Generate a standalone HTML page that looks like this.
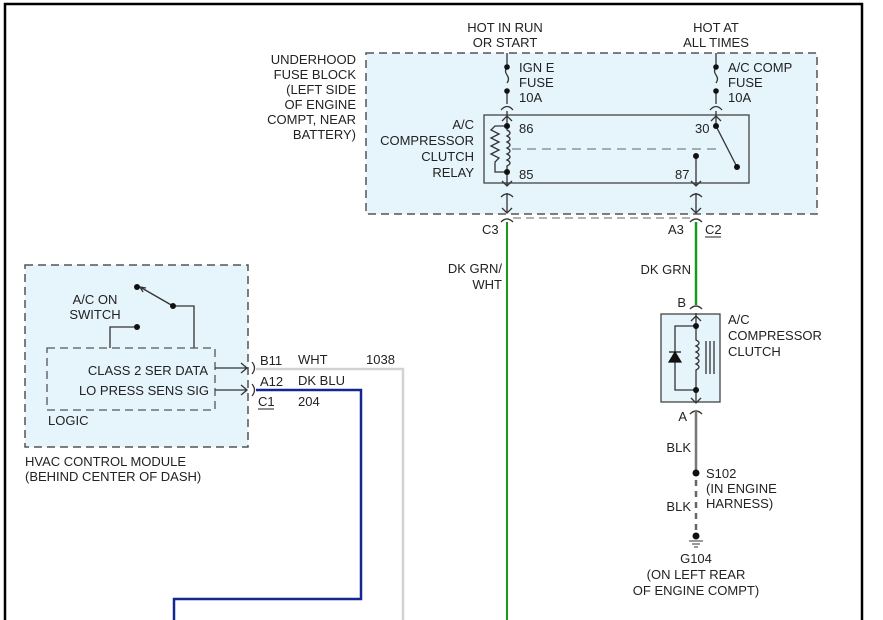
<!DOCTYPE html>
<html><head><meta charset="utf-8"><style>
html,body{margin:0;padding:0;background:#fff;}
svg{display:block;font-family:"Liberation Sans",Arial,sans-serif;font-size:13px;fill:#222;}
</style></head><body>
<svg width="883" height="620" viewBox="0 0 883 620" xmlns="http://www.w3.org/2000/svg">
<path d="M5 620 V4 H862 V620" fill="none" stroke="#000" stroke-width="2.5"/>

<rect x="366" y="53" width="451" height="161" fill="#e6f4fc" stroke="#555" stroke-width="1.5" stroke-dasharray="8,5"/>
<text x="356" y="64" text-anchor="end">UNDERHOOD</text>
<text x="356" y="79" text-anchor="end">FUSE BLOCK</text>
<text x="356" y="94" text-anchor="end">(LEFT SIDE</text>
<text x="356" y="109" text-anchor="end">OF ENGINE</text>
<text x="356" y="124" text-anchor="end">COMPT, NEAR</text>
<text x="356" y="139" text-anchor="end">BATTERY)</text>

<text x="505" y="32" text-anchor="middle">HOT IN RUN</text>
<text x="505" y="47" text-anchor="middle">OR START</text>
<text x="716" y="32" text-anchor="middle">HOT AT</text>
<text x="716" y="47" text-anchor="middle">ALL TIMES</text>

<g stroke="#333" stroke-width="1.3" fill="none">
<path d="M507 53 V67"/>
<path d="M507 67 q-3 4 0 8 q3 4 0 8"/>
<path d="M507 91 V104"/>
<path d="M501 110 q6 -7 12 0"/>
<path d="M716 53 V67"/>
<path d="M716 67 q-3 4 0 8 q3 4 0 8"/>
<path d="M716 91 V104"/>
<path d="M710 110 q6 -7 12 0"/>
</g>
<g fill="#111">
<circle cx="507" cy="67" r="2.8"/><circle cx="507" cy="91" r="2.8"/>
<circle cx="716" cy="67" r="2.8"/><circle cx="716" cy="91" r="2.8"/>
</g>
<text x="519" y="72">IGN E</text><text x="519" y="87">FUSE</text><text x="519" y="102">10A</text>
<text x="728" y="72">A/C COMP</text><text x="728" y="87">FUSE</text><text x="728" y="102">10A</text>

<rect x="484" y="115" width="265" height="68" fill="#e6f4fc" stroke="#444" stroke-width="1.3"/>
<text x="474" y="129" text-anchor="end">A/C</text>
<text x="474" y="145" text-anchor="end">COMPRESSOR</text>
<text x="474" y="161" text-anchor="end">CLUTCH</text>
<text x="474" y="177" text-anchor="end">RELAY</text>
<g stroke="#333" stroke-width="1.3" fill="none">
<path d="M507 111 V126"/><path d="M502 121 L507 116 L512 121"/>
<path d="M507 126 H495 l-4 4 l8 4 l-8 4 l8 4 l-8 4 l8 4 l-8 4 l8 4 l-4 4 V172 H507"/>
<path d="M507 126 V130 q6 3 0 6 q6 3 0 6 q6 3 0 6 q6 3 0 6 q6 3 0 6 q6 3 0 6 V172"/>
<path d="M507 172 V186"/><path d="M502 181 L507 186 L512 181"/>
<path d="M512 149 H720" stroke-dasharray="9,6" stroke="#666" stroke-width="1"/>
<path d="M716 111 V126"/><path d="M711 121 L716 116 L721 121"/>
<path d="M716 126 L737 167"/>
<path d="M696 156 V186"/><path d="M691 181 L696 186 L701 181"/>
<path d="M501 197 q6 -6 12 0"/><path d="M507 193 V213"/><path d="M502 208 L507 213 L512 208"/>
<path d="M690 197 q6 -6 12 0"/><path d="M696 193 V213"/><path d="M691 208 L696 213 L701 208"/>
<path d="M501 222 q6 -6 12 0"/><path d="M690 222 q6 -6 12 0"/>
<path d="M513 218 H690" stroke-dasharray="8,5" stroke="#666" stroke-width="1"/>
</g>
<g fill="#111">
<circle cx="507" cy="126" r="3"/><circle cx="507" cy="172" r="3"/>
<circle cx="716" cy="126" r="3"/><circle cx="737" cy="167" r="3"/>
<circle cx="696" cy="156" r="3"/>
</g>
<text x="519" y="133">86</text><text x="519" y="179">85</text>
<text x="695" y="133">30</text><text x="675" y="179">87</text>
<text x="482" y="234">C3</text>
<text x="668" y="234">A3</text>
<text x="705" y="234">C2</text><path d="M705 237 H721" stroke="#222" stroke-width="1"/>

<path d="M507 222 V620" stroke="#1a9a1a" stroke-width="2"/>
<path d="M696 222 V305" stroke="#1a9a1a" stroke-width="2.5"/>
<text x="502" y="273" text-anchor="end">DK GRN/</text>
<text x="502" y="289" text-anchor="end">WHT</text>
<text x="691" y="274" text-anchor="end">DK GRN</text>

<text x="686" y="307" text-anchor="end">B</text>
<path d="M690 309 q6 -6 12 0" stroke="#333" stroke-width="1.3" fill="none"/>
<rect x="661" y="314" width="59" height="88" fill="#e6f4fc" stroke="#444" stroke-width="1.3"/>
<g stroke="#333" stroke-width="1.3" fill="none">
<path d="M696 313 V326"/><path d="M691 321 L696 316 L701 321"/>
<path d="M696 326 H675 V390 H696"/>
<path d="M696 326 V340 q6 3 0 6 q6 3 0 6 q6 3 0 6 q6 3 0 6 q6 3 0 6 V390"/>
<path d="M706 341 V374 M710 341 V374 M714 341 V374"/>
<path d="M696 390 V403"/><path d="M691 398 L696 403 L701 398"/>
<path d="M690 414 q6 -6 12 0"/>
</g>
<path d="M669 362 H681 L675 352 Z M669 352 H681" fill="#111" stroke="#111" stroke-width="1.2"/>
<g fill="#111"><circle cx="696" cy="326" r="3"/><circle cx="696" cy="390" r="3"/></g>
<text x="728" y="324">A/C</text><text x="728" y="340">COMPRESSOR</text><text x="728" y="356">CLUTCH</text>
<text x="687" y="421" text-anchor="end">A</text>
<path d="M696 411 V472" stroke="#777" stroke-width="2.5"/>
<text x="691" y="452" text-anchor="end">BLK</text>
<circle cx="696" cy="473" r="3.5" fill="#111"/>
<text x="706" y="478">S102</text><text x="706" y="493">(IN ENGINE</text><text x="706" y="508">HARNESS)</text>
<path d="M696 480 V530" stroke="#666" stroke-width="2.5" stroke-dasharray="6,5"/>
<text x="691" y="511" text-anchor="end">BLK</text>
<circle cx="696" cy="536" r="3.5" fill="#111"/>
<path d="M689 541 H703 M692 544 H700 M694 547 H698" stroke="#333" stroke-width="1"/>
<text x="696" y="563" text-anchor="middle">G104</text>
<text x="696" y="579" text-anchor="middle">(ON LEFT REAR</text>
<text x="696" y="595" text-anchor="middle">OF ENGINE COMPT)</text>

<rect x="25" y="265" width="223" height="182" fill="#e6f4fc" stroke="#555" stroke-width="1.5" stroke-dasharray="8,5"/>
<text x="95" y="304" text-anchor="middle">A/C ON</text>
<text x="95" y="319" text-anchor="middle">SWITCH</text>
<g stroke="#333" stroke-width="1.3" fill="none">
<path d="M173 306 L140 287"/><path d="M143 292 L140 287 L146 288"/>
<path d="M173 306 H194 V348"/>
<path d="M137 327 H110 V348"/>
</g>
<g fill="#111"><circle cx="137" cy="287" r="3"/><circle cx="173" cy="306" r="3"/><circle cx="137" cy="327" r="3"/></g>
<rect x="47" y="348" width="168" height="62" fill="#e6f4fc" stroke="#555" stroke-width="1.3" stroke-dasharray="8,5"/>
<text x="208" y="375" text-anchor="end">CLASS 2 SER DATA</text>
<text x="209" y="395" text-anchor="end">LO PRESS SENS SIG</text>
<text x="48" y="425">LOGIC</text>
<text x="25" y="466">HVAC CONTROL MODULE</text>
<text x="25" y="481">(BEHIND CENTER OF DASH)</text>
<g stroke="#333" stroke-width="1.3" fill="none">
<path d="M215 368 H247 M241 363 L247 368 L241 373"/>
<path d="M215 390 H247 M241 385 L247 390 L241 395"/>
<path d="M252 362 q5 6 0 12 M252 384 q5 6 0 12"/>
</g>
<text x="260" y="365">B11</text><text x="298" y="364">WHT</text><text x="366" y="364">1038</text>
<text x="260" y="386">A12</text><text x="298" y="385">DK BLU</text>
<text x="258" y="406">C1</text><path d="M258 409 H274" stroke="#222" stroke-width="1"/>
<text x="298" y="406">204</text>
<path d="M256 369 H403 V620" fill="none" stroke="#d2d2d2" stroke-width="2.5"/>
<path d="M256 390 H361 V599 H174 V620" fill="none" stroke="#12288e" stroke-width="2.5"/>
</svg>
</body></html>
